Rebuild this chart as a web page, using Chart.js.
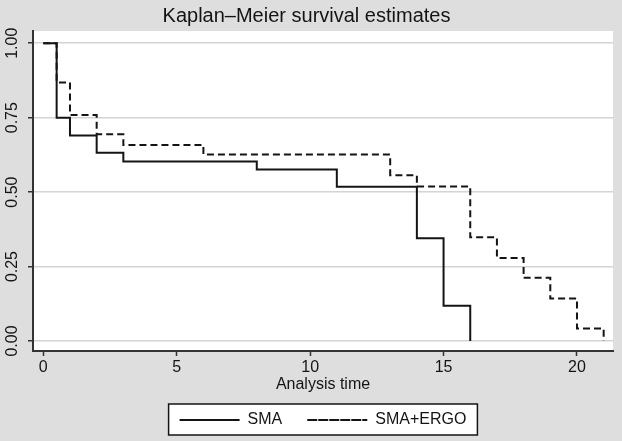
<!DOCTYPE html>
<html>
<head>
<meta charset="utf-8">
<script src="https://cdn.jsdelivr.net/npm/chart.js@4.4.1/dist/chart.umd.min.js"></script>
<style>
  html, body { margin: 0; padding: 0; background: #dedede; }
  #wrap { width: 622px; height: 441px; }
</style>
</head>
<body>
<div id="wrap"><canvas id="km"></canvas></div>
<script>
// KM step points: time of the drop, survival just after it
const smaTimes = [0, 0.5, 1, 2, 3, 8, 11, 14, 15, 16];
const smaSurv = [1, 0.75, 0.69, 0.632, 0.603, 0.576, 0.518, 0.345, 0.118, 0];
const ergoTimes = [0, 0.5, 1, 2, 3, 6, 13, 14, 16, 17, 18, 19, 20, 21];
const ergoSurv = [1, 0.868, 0.759, 0.694, 0.658, 0.626, 0.557, 0.519, 0.348, 0.279, 0.212, 0.143, 0.042, 0];
const xTicks = [0, 5, 10, 15, 20];
const yTicks = [0, 0.25, 0.5, 0.75, 1];
const seriesNames = ["SMA", "SMA+ERGO"];

const FONT = "'Liberation Sans', Arial, Helvetica, sans-serif";
const ink = "#141414";

const toPoints = (xs, ys) => xs.map((x, i) => ({ x, y: ys[i] }));

// grey page, white plot area, boxed legend
const backdrop = {
  id: "backdrop",
  beforeDraw(chart) {
    const { ctx, chartArea: a, legend } = chart;
    ctx.save();
    ctx.fillStyle = "#dedede";
    ctx.fillRect(0, 0, chart.width, chart.height);
    ctx.fillStyle = "#ffffff";
    ctx.fillRect(a.left, a.top, a.right - a.left, a.bottom - a.top);
    const hb = legend.legendHitBoxes;
    if (hb && hb.length) {
      const last = hb[hb.length - 1];
      const l = hb[0].left - 11;
      const r = last.left + last.width + 11;
      const mid = hb[0].top + hb[0].height / 2;
      ctx.fillRect(l, mid - 16, r - l, 31);
      ctx.strokeStyle = ink;
      ctx.lineWidth = 1.5;
      ctx.strokeRect(l, mid - 16, r - l, 31);
    }
    ctx.restore();
  },
};

new Chart(document.getElementById("km"), {
  type: "line",
  data: {
    datasets: [
      {
        label: seriesNames[0],
        data: toPoints(smaTimes, smaSurv),
        borderColor: ink,
        backgroundColor: "transparent",
        borderWidth: 2,
        stepped: true,
        pointRadius: 0,
        fill: false,
      },
      {
        label: seriesNames[1],
        data: toPoints(ergoTimes, ergoSurv),
        borderColor: ink,
        backgroundColor: "transparent",
        borderWidth: 2,
        borderDash: [7, 4],
        stepped: true,
        pointRadius: 0,
        fill: false,
      },
    ],
  },
  options: {
    responsive: true,
    maintainAspectRatio: false,
    animation: false,
    layout: { padding: { left: 0, right: 9, top: 0, bottom: 3 } },
    plugins: {
      title: {
        display: true,
        text: "Kaplan\u2013Meier survival estimates",
        color: ink,
        font: { family: FONT, size: 20, weight: "normal" },
        padding: { top: 4, bottom: 3 },
      },
      legend: {
        position: "bottom",
        fullSize: false,
        labels: {
          color: ink,
          font: { family: FONT, size: 16 },
          boxWidth: 60,
          boxHeight: 0,
          padding: 25,
        },
      },
      tooltip: { enabled: false },
    },
    scales: {
      x: {
        type: "linear",
        min: -0.386,
        max: 21.35,
        afterBuildTicks: (s) => { s.ticks = xTicks.map((v) => ({ value: v })); },
        afterFit: (s) => { s.height = 36; },
        ticks: {
          color: ink,
          font: { family: FONT, size: 16 },
          padding: 2,
          maxRotation: 0,
          autoSkip: false,
          callback: (v) => String(v),
        },
        grid: { drawOnChartArea: false, tickLength: 5, tickColor: "#333", tickWidth: 1.5 },
        border: { color: "#333", width: 2 },
        title: {
          display: true,
          text: "Analysis time",
          color: ink,
          font: { family: FONT, size: 16 },
          padding: { top: 0, bottom: -7 },
        },
      },
      y: {
        min: -0.0336,
        max: 1.041,
        afterBuildTicks: (s) => { s.ticks = yTicks.map((v) => ({ value: v })); },
        afterFit: (s) => { s.width = 33; },
        ticks: {
          color: ink,
          font: { family: FONT, size: 16 },
          padding: 0,
          minRotation: 90,
          maxRotation: 90,
          crossAlign: "center",
          autoSkip: false,
          callback: (v) => v.toFixed(2),
        },
        grid: { color: "#d4d4d4", lineWidth: 1.5, tickLength: 5, tickColor: "#333", tickWidth: 1.5 },
        border: { color: "#333", width: 2 },
      },
    },
  },
  plugins: [backdrop],
});
</script>
</body>
</html>
